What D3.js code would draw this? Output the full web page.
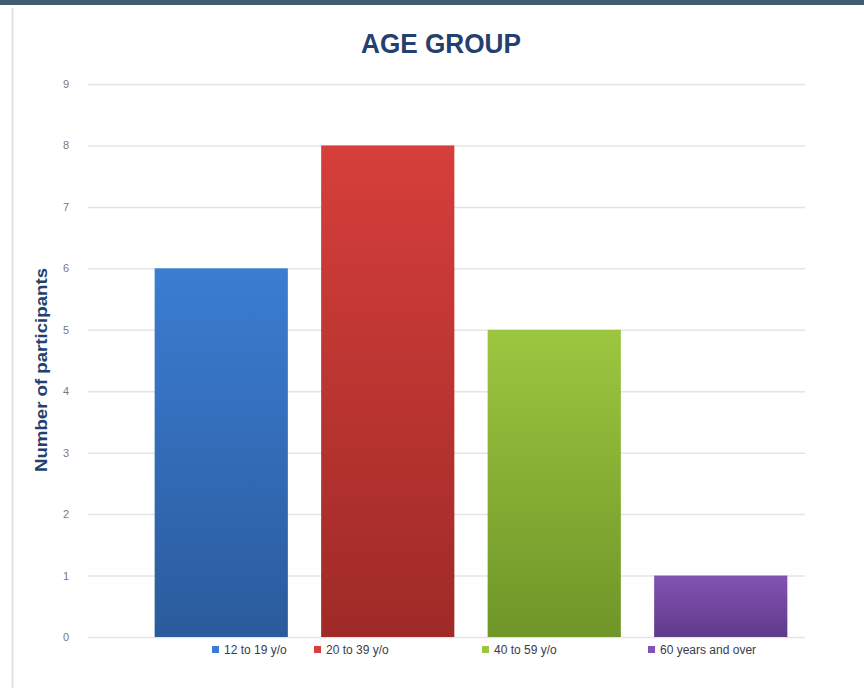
<!DOCTYPE html>
<html><head><meta charset="utf-8">
<script src="https://cdn.jsdelivr.net/npm/d3@7"></script>
<style>body{margin:0;background:#fff;}svg{display:block;}</style>
</head><body>
<script>
const categories = ["12 to 19 y/o", "20 to 39 y/o", "40 to 59 y/o", "60 years and over"];
const values = [6, 8, 5, 1];
const yTicks = [0, 1, 2, 3, 4, 5, 6, 7, 8, 9];
const colorsTop = ["#3b7dd2", "#d63f3b", "#9dc640", "#8253b3"];
const colorsBottom = ["#2a5b9c", "#9f2a27", "#6e9628", "#5f3a8a"];

const W = 864, H = 688;
const svg = d3.select("body").append("svg").attr("width", W).attr("height", H);

// frame
svg.append("rect").attr("x", 0).attr("y", 0).attr("width", W).attr("height", 5).attr("fill", "#435a74");
svg.append("line").attr("x1", 12.5).attr("x2", 12.5).attr("y1", 8).attr("y2", H).attr("stroke", "#e2e2e2").attr("stroke-width", 2);

const defs = svg.append("defs");
categories.forEach((c, i) => {
  const g = defs.append("linearGradient").attr("id", "g" + i).attr("x1", 0).attr("y1", 0).attr("x2", 0).attr("y2", 1);
  g.append("stop").attr("offset", "0%").attr("stop-color", colorsTop[i]);
  g.append("stop").attr("offset", "100%").attr("stop-color", colorsBottom[i]);
});

const y = d3.scaleLinear().domain([0, 9]).range([637, 84]);
const x = d3.scaleBand().domain(categories).range([138, 804]).paddingInner(0.2).paddingOuter(0.1);

// gridlines
const grid = d3.axisLeft(y).tickValues(yTicks).tickSize(-(805 - 88)).tickFormat(d3.format("d"));
const ga = svg.append("g").attr("transform", "translate(88,0)").call(grid);
ga.select(".domain").remove();
ga.selectAll(".tick line").attr("stroke", "#e4e4e4").attr("stroke-width", 1.5);
ga.selectAll(".tick text").attr("x", -19).attr("fill", "#7a7a7a").attr("font-family", "Liberation Sans, Arial, sans-serif").attr("font-size", 11);

// bars
svg.append("g").selectAll("rect").data(values).join("rect")
  .attr("x", (d, i) => x(categories[i]))
  .attr("y", d => y(d))
  .attr("width", x.bandwidth())
  .attr("height", d => y(0) - y(d))
  .attr("fill", (d, i) => `url(#g${i})`);

// title
svg.append("text").attr("x", 441).attr("y", 53).attr("text-anchor", "middle")
  .attr("font-family", "Liberation Sans, Arial, sans-serif").attr("font-weight", "bold").attr("font-size", 27)
  .attr("textLength", 160).attr("lengthAdjust", "spacingAndGlyphs")
  .attr("fill", "#24406e").text("AGE GROUP");

// y label
svg.append("text").attr("transform", "translate(47,370) rotate(-90)").attr("text-anchor", "middle")
  .attr("font-family", "Liberation Sans, Arial, sans-serif").attr("font-weight", "bold").attr("font-size", 16)
  .attr("textLength", 204).attr("lengthAdjust", "spacingAndGlyphs")
  .attr("fill", "#24406e").text("Number of participants");

// legend
const legX = [212, 314, 482, 648];
const leg = svg.append("g").selectAll("g").data(categories).join("g")
  .attr("transform", (d, i) => `translate(${legX[i]},651)`);
leg.append("rect").attr("x", 0).attr("y", -5).attr("width", 7).attr("height", 7).attr("fill", (d, i) => colorsTop[i]);
leg.append("text").attr("x", 12).attr("y", 3).attr("font-family", "Liberation Sans, Arial, sans-serif")
  .attr("font-size", 12).attr("fill", "#3a3a50").text(d => d);
</script>
</body></html>
